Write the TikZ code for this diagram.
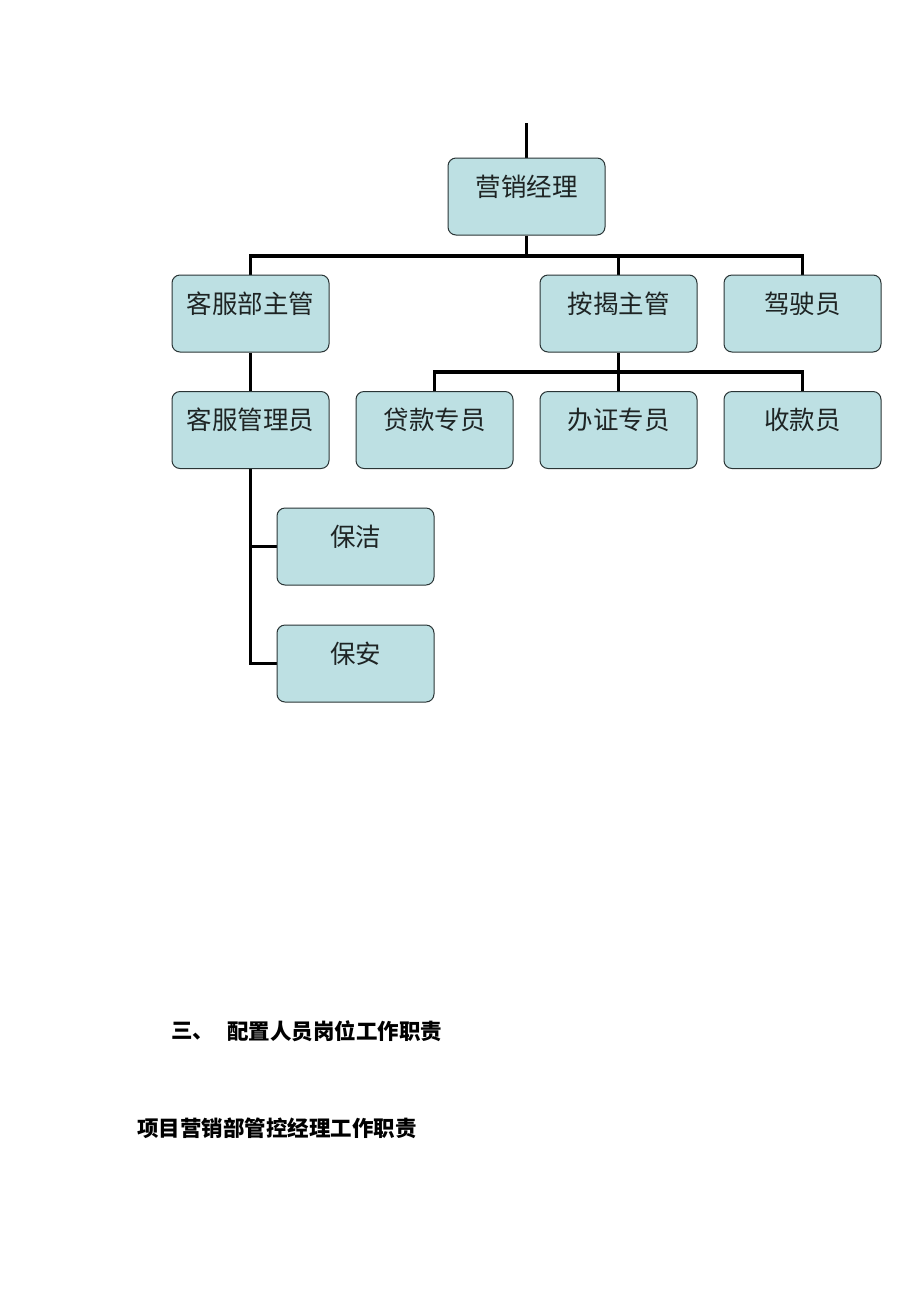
\documentclass[tikz,border=0pt]{standalone}
\usepackage{fontspec}
\setmainfont{Liberation Serif}
\newfontfamily\cjk{Noto Sans CJK SC}
\definecolor{boxfill}{HTML}{BDE0E3}
\definecolor{boxline}{HTML}{2A3536}
\definecolor{txt}{HTML}{1E2424}
\pgfdeclarelayer{bg}
\pgfsetlayers{bg,main}
\begin{document}
\begin{tikzpicture}[x=1pt,y=-1pt,
  box/.style={draw=boxline,line width=1pt,fill=boxfill,rounded corners=8pt,minimum width=157pt,minimum height=77pt,inner sep=0pt},
  lbl/.style={font=\cjk\fontsize{25.5pt}{28pt}\selectfont,text=txt,inner sep=0pt},
  conn/.style={line width=3.2pt,black},
  head/.style={font=\cjk\bfseries\fontsize{21.5pt}{24pt}\selectfont,inner sep=0pt,anchor=west}]
\useasboundingbox (0,0) rectangle (920,1302);
\begin{pgfonlayer}{bg}
\fill[white] (0,0) rectangle (920,1302);
\end{pgfonlayer}
% coordinates
\coordinate (top) at (526.5,123);
\coordinate (h1) at (526.5,256);
\coordinate (h2) at (618.5,372);
% boxes
\node[box] (m) at (526.5,196.5) {};
\node[box] (kf) at (250.5,313.5) {};
\node[box] (aj) at (618.5,313.5) {};
\node[box] (js) at (802.5,313.5) {};
\node[box] (kg) at (250.5,430) {};
\node[box] (dk) at (434.5,430) {};
\node[box] (bz) at (618.5,430) {};
\node[box] (sk) at (802.5,430) {};
\node[box] (bj) at (355.5,546.5) {};
\node[box] (ba) at (355.5,663.5) {};
% connectors behind boxes
\begin{pgfonlayer}{bg}
\draw[conn] (top) -- (m.north);
\draw[conn] (m.south) -- (h1);
\draw[conn] (kf.north) |- (h1) -| (js.north);
\draw[conn] (aj.north) -- (aj.north |- h1);
\draw[conn] (kf.south) -- (kg.north);
\draw[conn] (aj.south) -- (h2);
\draw[conn] (dk.north) |- (h2) -| (sk.north);
\draw[conn] (bz.north) -- (h2);
\draw[conn] (kg.south) |- (ba.west);
\draw[conn] (kg.south |- bj.west) -- (bj.west);
\end{pgfonlayer}
% labels
\node[lbl] (tm) at ([yshift=-29pt]m.north) {营销经理};
\node[lbl] (tkf) at ([yshift=-29pt]kf.north) {客服部主管};
\node[lbl] (taj) at ([yshift=-29pt]aj.north) {按揭主管};
\node[lbl] (tjs) at ([yshift=-29pt]js.north) {驾驶员};
\node[lbl] (tkg) at ([yshift=-29pt]kg.north) {客服管理员};
\node[lbl] (tdk) at ([yshift=-29pt]dk.north) {贷款专员};
\node[lbl] (tbz) at ([yshift=-29pt]bz.north) {办证专员};
\node[lbl] (tsk) at ([yshift=-29pt]sk.north) {收款员};
\node[lbl] (tbj) at ([yshift=-29pt]bj.north) {保洁};
\node[lbl] (tba) at ([yshift=-29pt]ba.north) {保安};
% headings
\node[head] (h3) at (171,1031) {三、};
\node[head] (h3t) at (227,1031) {配置人员岗位工作职责};
\node[head] (hp) at (137,1128) {项目营销部管控经理工作职责};
\end{tikzpicture}
\end{document}
